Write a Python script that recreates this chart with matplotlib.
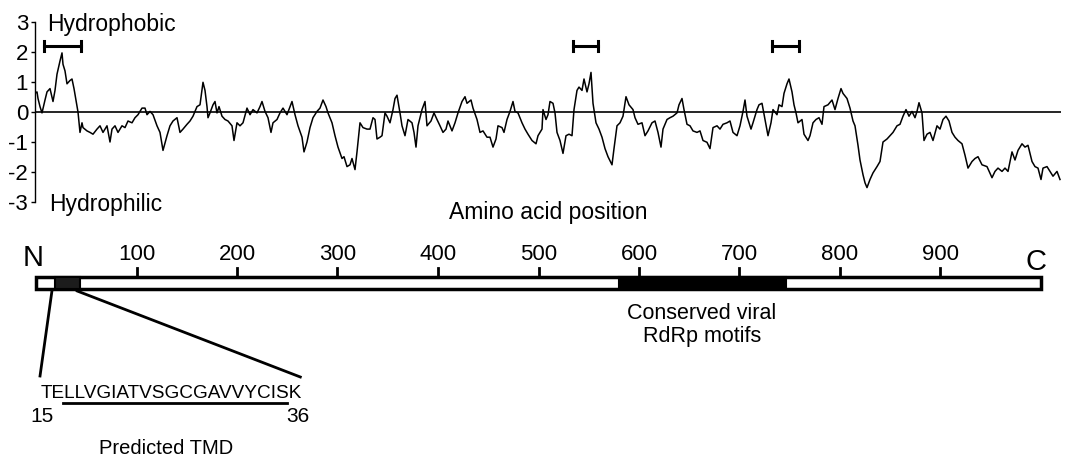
"""
Hydropathy profile of the polymerase with the domain map underneath
"""

import matplotlib
matplotlib.use('Agg')
import matplotlib.pyplot as plt
from matplotlib.patches import Rectangle

plt.rcParams['font.family'] = ['Liberation Sans', 'DejaVu Sans']
plt.rcParams['axes.unicode_minus'] = False

# hydropathy profile (residue, score)
residues = [
    0, 2, 3, 5, 7, 10, 12, 15, 18, 20, 22, 25, 27, 28, 30, 32, 35, 37, 39, 41,
    43, 45, 47, 48, 52, 55, 58, 62, 65, 68, 72, 75, 77, 80, 83, 87, 90, 93, 97,
    100, 103, 107, 110, 112, 115, 118, 122, 125, 128, 132, 135, 138, 142, 145,
    148, 152, 155, 158, 162, 165, 168, 170, 172, 173, 175, 178, 180, 182, 184,
    187, 190, 193, 197, 199, 202, 205, 208, 212, 215, 218, 222, 225, 227, 230,
    233, 236, 238, 242, 245, 248, 252, 255, 257, 260, 263, 267, 269, 272, 275,
    278, 282, 285, 288, 291, 293, 297, 300, 303, 307, 309, 312, 315, 317, 320,
    322, 325, 328, 332, 335, 338, 340, 342, 345, 347, 350, 352, 355, 358, 360,
    362, 365, 367, 370, 373, 377, 379, 381, 383, 387, 390, 392, 396, 399, 402,
    405, 408, 411, 413, 417, 420, 423, 427, 430, 432, 436, 438, 442, 445, 448,
    452, 455, 458, 461, 463, 467, 469, 472, 475, 478, 480, 483, 487, 490, 493,
    497, 501, 503, 507, 508, 511, 513, 515, 518, 520, 522, 525, 528, 531, 534,
    537, 539, 542, 544, 547, 549, 552, 554, 556, 558, 561, 564, 567, 570, 573,
    577, 579, 582, 585, 588, 591, 594, 598, 600, 603, 607, 610, 613, 617, 620,
    623, 626, 628, 632, 635, 638, 642, 644, 647, 649, 652, 655, 658, 662, 665,
    668, 672, 675, 678, 682, 685, 688, 692, 695, 698, 702, 705, 708, 710, 712,
    716, 718, 722, 724, 727, 730, 733, 736, 738, 742, 744, 747, 749, 752, 754,
    757, 759, 761, 763, 767, 769, 773, 775, 778, 781, 784, 787, 789, 793, 797,
    800, 803, 806, 808, 812, 815, 818, 820, 823, 825, 828, 830, 832, 835, 838,
    842, 845, 848, 852, 855, 858, 862, 865, 868, 871, 874, 877, 880, 882, 884,
    887, 889, 892, 895, 898, 902, 905, 908, 911, 914, 917, 920, 923, 927, 930,
    933, 937, 940, 943, 947, 952, 957, 960, 963, 967, 970, 973, 977, 980, 983,
    987, 990, 993, 997, 1000, 1003, 1006, 1008, 1012, 1015, 1018, 1022, 1025,
]
scores = [
    0.62, 0.67, 0.45, 0.18, -0.03, 0.40, 0.67, 0.78, 0.35, 0.72, 1.26, 1.70,
    1.97, 1.59, 1.37, 0.94, 1.05, 1.10, 0.78, 0.40, 0.00, -0.68, -0.36, -0.52,
    -0.63, -0.68, -0.74, -0.57, -0.46, -0.68, -0.46, -1.00, -0.57, -0.46,
    -0.68, -0.46, -0.52, -0.30, -0.36, -0.19, -0.09, 0.13, 0.13, -0.09, 0.02,
    -0.09, -0.46, -0.68, -1.28, -0.79, -0.46, -0.30, -0.19, -0.68, -0.57,
    -0.41, -0.30, -0.14, 0.18, 0.24, 0.99, 0.72, 0.18, -0.19, -0.03, 0.24,
    0.35, -0.03, 0.18, -0.14, -0.25, -0.30, -0.46, -0.95, -0.36, -0.46, -0.36,
    0.13, -0.09, 0.08, -0.03, 0.18, 0.35, 0.02, -0.19, -0.68, -0.36, -0.25,
    -0.03, 0.13, -0.09, 0.18, 0.35, -0.09, -0.46, -0.84, -1.33, -1.00, -0.52,
    -0.19, 0.02, 0.13, 0.40, 0.18, -0.03, -0.36, -0.79, -1.17, -1.55, -1.49,
    -1.82, -1.76, -1.55, -1.92, -1.33, -0.36, -0.52, -0.57, -0.57, -0.19,
    -0.25, -0.90, -0.84, -0.79, -0.03, -0.14, -0.36, 0.08, 0.45, 0.56, -0.03,
    -0.46, -0.79, -0.25, -0.36, -0.68, -1.17, -0.46, 0.08, 0.35, -0.46, -0.30,
    -0.03, -0.25, -0.46, -0.68, -0.57, -0.30, -0.63, -0.36, -0.03, 0.35, 0.51,
    0.29, 0.40, 0.13, -0.25, -0.68, -0.63, -0.84, -0.84, -1.17, -0.90, -0.46,
    -0.52, -0.68, -0.25, 0.02, 0.35, 0.02, -0.03, -0.36, -0.57, -0.74, -0.95,
    -1.06, -0.79, -0.57, 0.08, -0.25, -0.09, 0.35, 0.29, -0.03, -0.68, -0.95,
    -1.38, -0.79, -0.74, -0.79, 0.08, 0.72, 0.83, 0.72, 1.10, 0.67, 0.94,
    1.32, 0.29, -0.36, -0.57, -0.84, -1.22, -1.49, -1.76, -1.22, -0.46, -0.36,
    -0.14, 0.51, 0.24, 0.08, -0.19, -0.41, -0.36, -0.79, -0.63, -0.36, -0.30,
    -0.68, -1.17, -0.57, -0.25, -0.19, -0.14, -0.03, 0.24, 0.45, 0.08, -0.41,
    -0.46, -0.63, -0.68, -0.63, -0.95, -1.01, -1.22, -0.52, -0.46, -0.57,
    -0.41, -0.36, -0.30, -0.68, -0.79, -0.46, 0.02, 0.40, -0.14, -0.57, -0.36,
    0.08, 0.24, 0.29, -0.25, -0.79, -0.36, 0.08, -0.09, 0.24, 0.18, 0.62,
    0.94, 1.10, 0.67, 0.24, -0.03, -0.36, -0.25, -0.74, -0.95, -0.79, -0.36,
    -0.25, -0.19, -0.41, 0.18, 0.24, 0.40, 0.08, 0.45, 0.78, 0.62, 0.45, 0.13,
    -0.30, -0.46, -1.11, -1.60, -2.09, -2.36, -2.52, -2.25, -2.03, -1.82,
    -1.65, -1.00, -0.90, -0.79, -0.68, -0.46, -0.41, -0.14, 0.08, -0.14, 0.02,
    -0.19, 0.02, 0.31, -0.03, -0.95, -0.74, -0.68, -0.95, -0.46, -0.57, -0.25,
    -0.14, -0.30, -0.68, -0.84, -0.95, -1.06, -1.44, -1.87, -1.65, -1.55,
    -1.49, -1.76, -1.82, -2.19, -1.98, -1.87, -1.98, -1.87, -1.98, -1.33,
    -1.60, -1.28, -1.06, -1.17, -1.11, -1.65, -1.82, -1.87, -2.25, -1.87,
    -1.82, -1.98, -2.14, -1.98, -2.25,
]

# hydrophobic stretches marked with brackets (profile coordinates)
hydrophobic_starts = [9, 538, 737]
hydrophobic_ends = [46, 563, 764]

# domain map (amino acid positions)
protein_length = 1000
tmd_box = [19, 44]
rdrp_box = [580, 746]
map_ticks = [100, 200, 300, 400, 500, 600, 700, 800, 900]
tmd_sequence = 'TELLVGIATVSGCGAVVYCISK'
tmd_first, tmd_last = 15, 36

W, H = 1068, 459


def fx(px):
    return px / W


def fy(py):
    return 1 - py / H


fig = plt.figure(figsize=(W / 100, H / 100), dpi=100)

# ---- domain map, drawn on an axes spanning the whole figure
ax2 = fig.add_axes([0, 0, 1, 1])
ax2.set_xlim(-36 / 1.005, (W - 36) / 1.005)
ax2.set_ylim(H, 0)
ax2.axis('off')

ax2.add_patch(Rectangle((0, 277), protein_length, 12, facecolor='white',
                        edgecolor='black', lw=2.5, zorder=2))
ax2.add_patch(Rectangle((tmd_box[0], 277), tmd_box[1] - tmd_box[0], 12,
                        facecolor='#1c1c1c', edgecolor='black', lw=1.5,
                        zorder=3))
ax2.add_patch(Rectangle((rdrp_box[0], 277), rdrp_box[1] - rdrp_box[0], 12,
                        facecolor='black', edgecolor='black', lw=1.5,
                        zorder=3))
for t in map_ticks:
    ax2.plot([t, t], [268, 277], color='black', lw=2, zorder=2)
    ax2.text(t, 254, str(t), ha='center', va='center', fontsize=16)

# callout lines from TMD box to the sequence
ax2.plot([tmd_box[0] - 3, tmd_box[0] - 15], [290, 376], color='black', lw=2)
ax2.plot([tmd_box[1] - 3, 263], [291, 377], color='black', lw=2)
ax2.plot([27, 250], [403, 403], color='black', lw=2)

fig.text(fx(33), fy(258), 'N', ha='center', va='center', fontsize=21)
fig.text(fx(1036), fy(262), 'C', ha='center', va='center', fontsize=21)
fig.text(fx(548), fy(213), 'Amino acid position', ha='center', va='center',
         fontsize=16.5)
fig.text(fx(171), fy(393), tmd_sequence, ha='center', va='center',
         fontsize=13.7)
fig.text(fx(42), fy(416), str(tmd_first), ha='center', va='center',
         fontsize=15)
fig.text(fx(298), fy(416), str(tmd_last), ha='center', va='center',
         fontsize=15)
fig.text(fx(166), fy(449), 'Predicted TMD', ha='center', va='center',
         fontsize=14.5)
fig.text(fx(702), fy(325), 'Conserved viral\nRdRp motifs', ha='center',
         va='center', fontsize=15.5, linespacing=1.15)

# ---- hydropathy profile
ax = fig.add_axes([fx(35), fy(202), (1061 - 35) / W, 180 / H])
ax.patch.set_alpha(0)
ax.plot(residues, scores, color='black', lw=1.1)
ax.axhline(0, color='black', lw=1.2)
for s, e in zip(hydrophobic_starts, hydrophobic_ends):
    ax.plot([s, e], [2.2, 2.2], color='black', lw=2.2)
    ax.plot([s, s], [2.02, 2.38], color='black', lw=2.2)
    ax.plot([e, e], [2.02, 2.38], color='black', lw=2.2)

ax.set_xlim(0, 1026)
ax.set_ylim(-3, 3)
ax.set_yticks(range(-3, 4))
ax.set_xticks([])
for side in ['top', 'right', 'bottom']:
    ax.spines[side].set_visible(False)
ax.spines['left'].set_linewidth(1.0)
ax.tick_params(axis='y', length=3, width=1, pad=2, labelsize=16)

fig.text(fx(47), fy(25), 'Hydrophobic', ha='left', va='center', fontsize=16.5)
fig.text(fx(49), fy(205), 'Hydrophilic', ha='left', va='center', fontsize=16.5)

fig.savefig('out.png', dpi=100)
